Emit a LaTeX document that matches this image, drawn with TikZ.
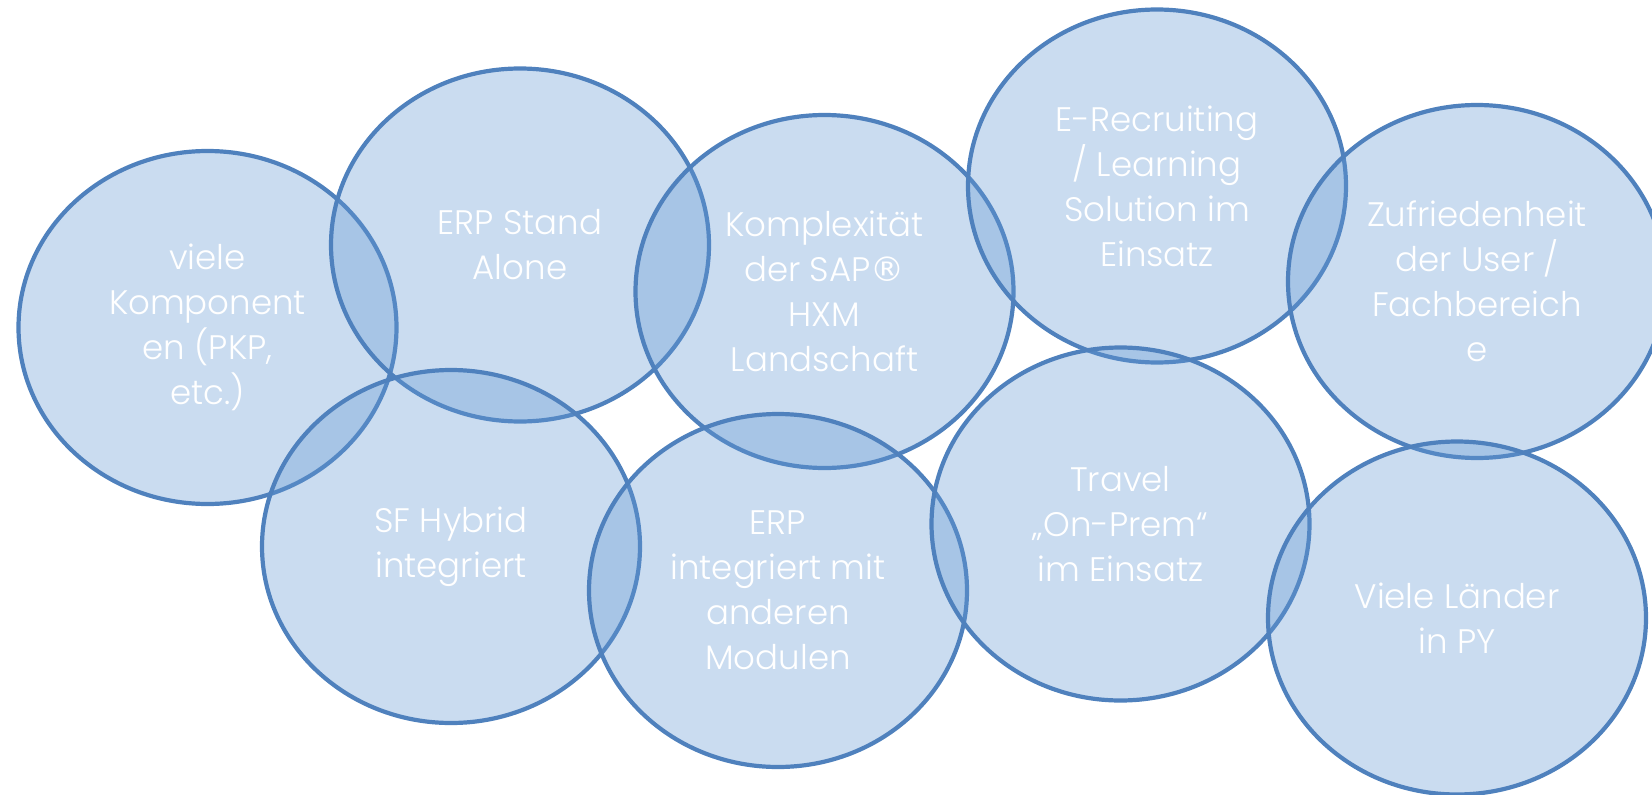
\documentclass[tikz,border=0pt]{standalone}
\usepackage{fontspec}
\setmainfont{Poppins}[UprightFont={* Light}]
\newfontfamily\regfont{DejaVu Sans}
\usetikzlibrary{shapes.geometric}

\definecolor{bubbleline}{RGB}{79,129,189}
\definecolor{bubblefill}{RGB}{99,152,211}

\tikzset{
  bubble/.style={ellipse, draw=bubbleline, line width=4.2pt,
    fill=bubblefill, fill opacity=0.34, text opacity=1, text=white,
    minimum width=378pt, minimum height=353pt, inner sep=0pt,
    align=center, font=\fontsize{34}{45}\selectfont}
}

\begin{document}
\begin{tikzpicture}[x=1pt, y=-1pt]
  %----- Rahmen (Pixelmaße) -----
  \useasboundingbox (0,0) rectangle (1652,795);

  %----- obere Reihe -----
  \node[bubble] (viele)   at (207.5,327.5) {viele\\Komponent\\en (PKP,\\etc.)};
  \node[bubble] (stand)   at (520,245)     {ERP Stand\\Alone};
  \node[bubble] (komplex) at (824.5,291.5) {Komplexität\\der SAP{\regfont ®}\\HXM\\Landschaft};
  \node[bubble] (recruit) at (1157,186)    {E-Recruiting\\/ Learning\\Solution im\\Einsatz};
  \node[bubble] (user)    at (1477,281.5)  {Zufriedenheit\\der User /\\Fachbereich\\e};

  %----- untere Reihe -----
  \node[bubble] (hybrid)  at (451,546.5)   {SF Hybrid\\integriert};
  \node[bubble] (module)  at (778,590.5)   {ERP\\integriert mit\\anderen\\Modulen};
  \node[bubble] (travel)  at (1120.5,524)  {Travel\\„On-Prem“\\im Einsatz};
  \node[bubble] (laender) at (1457,618)    {Viele Länder\\in PY};
\end{tikzpicture}
\end{document}
